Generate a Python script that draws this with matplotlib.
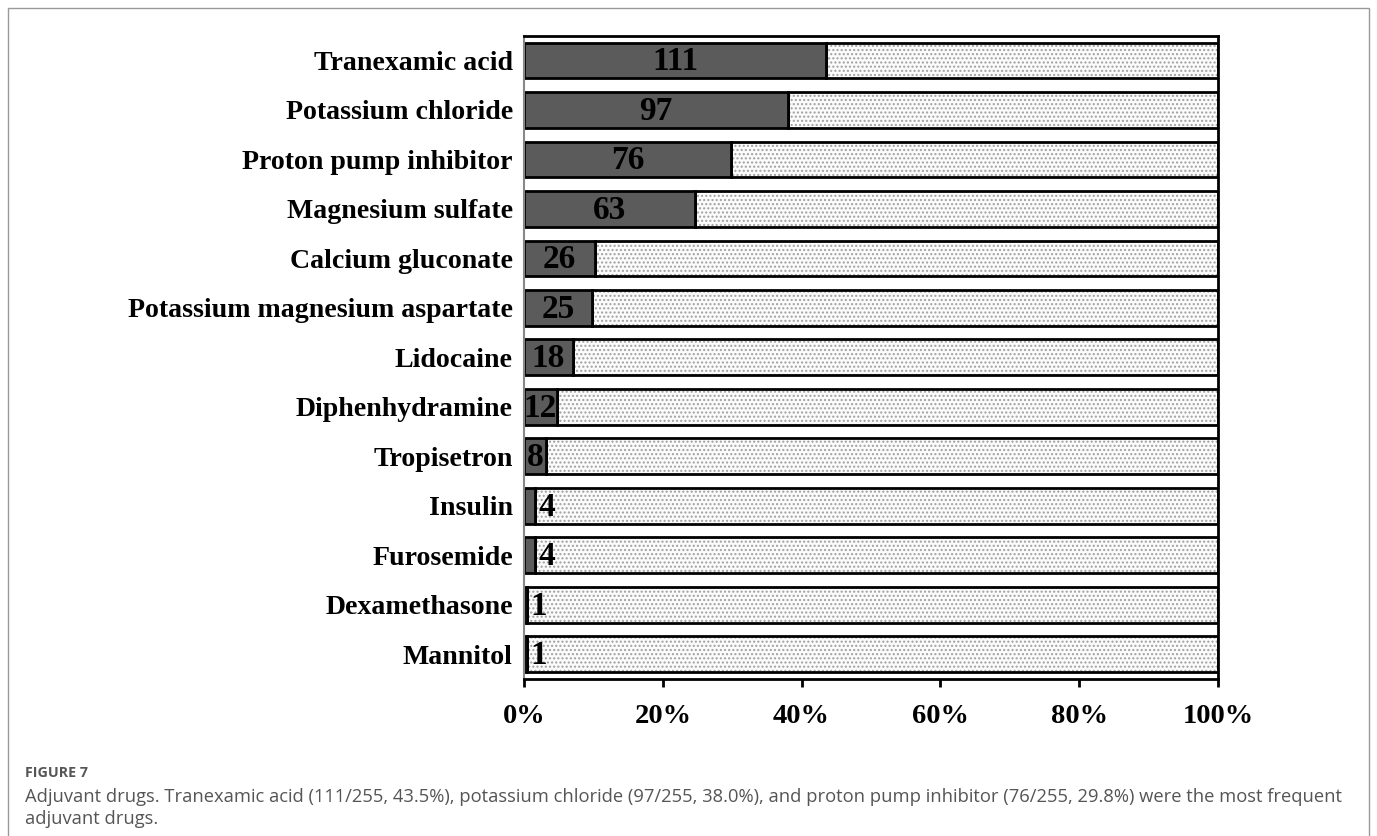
import matplotlib.pyplot as plt
from matplotlib.patches import Rectangle

# adjuvant drugs, number of patients out of 255
drugs = ['Tranexamic acid', 'Potassium chloride', 'Proton pump inhibitor',
         'Magnesium sulfate', 'Calcium gluconate', 'Potassium magnesium aspartate',
         'Lidocaine', 'Diphenhydramine', 'Tropisetron', 'Insulin', 'Furosemide',
         'Dexamethasone', 'Mannitol']
counts = [111, 97, 76, 63, 26, 25, 18, 12, 8, 4, 4, 1, 1]
total = 255
xticks = [0, 20, 40, 60, 80, 100]

caption_title = 'FIGURE 7'
caption_line1 = ('Adjuvant drugs. Tranexamic acid (111/255, 43.5%), potassium chloride (97/255, 38.0%), '
                 'and proton pump inhibitor (76/255, 29.8%) were the most frequent')
caption_line2 = 'adjuvant drugs.'

serif = 'Liberation Serif'

fig = plt.figure(figsize=(13.77, 8.36), dpi=100)
ax = fig.add_axes([0.3805, 0.1878, 0.504, 0.769])

pos = list(range(len(drugs)))
pct = [c / total * 100 for c in counts]
rest = [100 - p for p in pct]

h = 0.72
# dotted remainder: fill + hatch first, then a black outline on top
ax.barh(pos, rest, left=pct, height=h, color='#fbfbfb', edgecolor='#a0a0a0',
        hatch='....', linewidth=0)
ax.barh(pos, rest, left=pct, height=h, color='none', edgecolor='black', linewidth=2)
ax.barh(pos, pct, height=h, color='#5b5b5b', edgecolor='black', linewidth=2)

for i, (c, p) in enumerate(zip(counts, pct)):
    if c >= 8:
        ax.text(p / 2, i + 0.03, str(c), ha='center', va='center', family=serif,
                fontweight='bold', fontsize=24, color='black')
    else:
        ax.text(p + 0.6, i + 0.03, str(c), ha='left', va='center', family=serif,
                fontweight='bold', fontsize=24, color='black')

ax.set_xlim(0, 100)
ax.set_ylim(12.5, -0.49)
ax.set_yticks(pos)
ax.set_yticklabels(drugs, family=serif, fontweight='bold', fontsize=20.1)
ax.set_xticks(xticks)
ax.set_xticklabels([f'{t}%' for t in xticks], family=serif, fontweight='bold', fontsize=20.5)
ax.tick_params(axis='y', length=0, pad=8)
ax.tick_params(axis='x', length=6, width=2, pad=12)

ax.spines['left'].set_color('#888888')
ax.spines['left'].set_linewidth(1.5)
for s in ['top', 'right', 'bottom']:
    ax.spines[s].set_color('black')
    ax.spines[s].set_linewidth(2)

# outer frame of the figure panel
fig.patches.append(Rectangle((8 / 1377, -0.05), 1361 / 1377, 1 - 8 / 836 + 0.05,
                             transform=fig.transFigure, fill=False,
                             edgecolor='#999999', linewidth=1))

fig.text(25 / 1377, 1 - 773 / 836, caption_title, family='Open Sans', fontsize=10.3,
         fontweight='bold', color='#555555', va='center', ha='left')
fig.text(25 / 1377, 1 - 797 / 836, caption_line1, family='Open Sans', fontsize=13.2,
         color='#555555', va='center', ha='left')
fig.text(25 / 1377, 1 - 819 / 836, caption_line2, family='Open Sans', fontsize=13.2,
         color='#555555', va='center', ha='left')

fig.savefig('out.png', dpi=100)
